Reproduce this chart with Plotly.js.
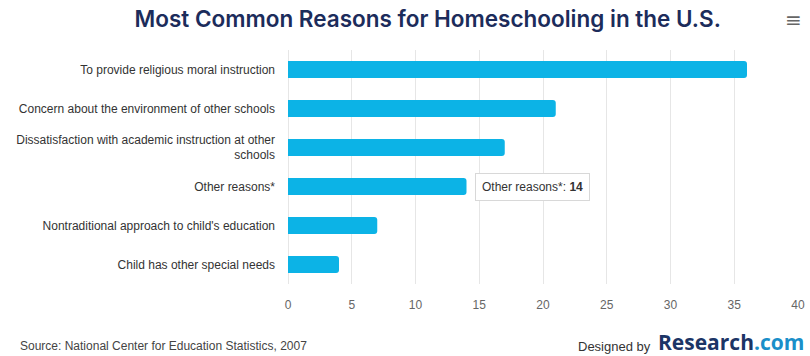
<!DOCTYPE html>
<html>
<head>
<meta charset="utf-8">
<script src="https://cdn.plot.ly/plotly-3.0.1.min.js"></script>
<style>
html,body{margin:0;padding:0;background:#fff;}
#chart{width:810px;height:356px;}
</style>
</head>
<body>
<div id="chart"></div>
<script>
const categories = [
  "To provide religious moral instruction",
  "Concern about the environment of other schools",
  "Dissatisfaction with academic instruction at other<br>schools",
  "Other reasons*",
  "Nontraditional approach to child's education",
  "Child has other special needs"
];
const values = [36, 21, 17, 14, 7, 4];
const xTicks = [0, 5, 10, 15, 20, 25, 30, 35, 40];
const tooltipCategory = "Other reasons*";
const tooltipValue = 14;

const trace = {
  type: 'bar',
  orientation: 'h',
  y: categories,
  x: values,
  marker: {color: '#0cb3e6', cornerradius: 3},
  hoverinfo: 'none'
};

const layout = {
  width: 810, height: 356,
  margin: {l: 288, r: 12, t: 50, b: 72},
  paper_bgcolor: '#ffffff',
  plot_bgcolor: '#ffffff',
  bargap: 0.56,
  showlegend: false,
  title: {
    text: 'Most Common Reasons for Homeschooling in the U.S.',
    font: {family: 'Inter, "Noto Sans", sans-serif', size: 22.5, color: '#1c2c5b', weight: 600},
    x: 0.528, xanchor: 'center', y: 0.945, yanchor: 'middle'
  },
  xaxis: {
    range: [0, 40],
    tickvals: xTicks,
    ticktext: xTicks.map(String),
    showgrid: true, gridcolor: '#e6e6e6', gridwidth: 1,
    zeroline: true, zerolinecolor: '#e6e6e6', zerolinewidth: 1,
    showline: false,
    ticks: '',
    ticklabelstandoff: 12,
    tickfont: {family: '"Liberation Sans", Arial, sans-serif', size: 12, color: '#666666'},
    fixedrange: true
  },
  yaxis: {
    categoryorder: 'array',
    categoryarray: categories.slice().reverse(),
    autorange: true,
    showgrid: false, zeroline: false, showline: false,
    ticks: '',
    ticklabelstandoff: 12,
    tickfont: {family: '"Liberation Sans", Arial, sans-serif', size: 12, color: '#333333'},
    fixedrange: true
  },
  annotations: [
    {
      x: tooltipValue, y: tooltipCategory, xref: 'x', yref: 'y',
      text: tooltipCategory + ': <b>' + tooltipValue + '</b>',
      showarrow: false, xanchor: 'left', yanchor: 'middle', xshift: 8,
      bgcolor: '#ffffff', bordercolor: '#d8d8d8', borderwidth: 1, borderpad: 6,
      font: {family: '"Liberation Sans", Arial, sans-serif', size: 12, color: '#333333'}
    },
    {
      x: 0, y: 0, xref: 'paper', yref: 'paper',
      text: 'Source: National Center for Education Statistics, 2007',
      showarrow: false, xanchor: 'left', yanchor: 'middle',
      font: {family: '"Liberation Sans", Arial, sans-serif', size: 12, color: '#444444'}
    },
    {
      x: 0, y: 0, xref: 'paper', yref: 'paper',
      text: 'Designed by',
      showarrow: false, xanchor: 'left', yanchor: 'middle',
      font: {family: '"Liberation Sans", Arial, sans-serif', size: 13, color: '#333333'}
    },
    {
      x: 0, y: 0, xref: 'paper', yref: 'paper',
      text: '<b>Research</b><b style="color:#1a8fc9">.com</b>',
      showarrow: false, xanchor: 'left', yanchor: 'middle',
      font: {family: '"Open Sans", "Noto Sans", sans-serif', size: 21, color: '#1c3566'}
    },
    {
      x: 0, y: 0, xref: 'paper', yref: 'paper',
      text: '≡',
      showarrow: false, xanchor: 'center', yanchor: 'middle',
      font: {family: '"DejaVu Sans", sans-serif', size: 20, color: '#666666'}
    }
  ]
};

function px2paperX(px){ return (px - layout.margin.l) / (layout.width - layout.margin.l - layout.margin.r); }
function px2paperY(py){ const h = layout.height - layout.margin.t - layout.margin.b; return (layout.height - layout.margin.b - py) / h; }
const a = layout.annotations;
a[1].x = px2paperX(18); a[1].y = px2paperY(346);
a[2].x = px2paperX(576); a[2].y = px2paperY(346);
a[3].x = px2paperX(656); a[3].y = px2paperY(342);
a[4].x = px2paperX(793); a[4].y = px2paperY(20);

Plotly.newPlot('chart', [trace], layout, {displayModeBar: false, staticPlot: true});
</script>
</body>
</html>
